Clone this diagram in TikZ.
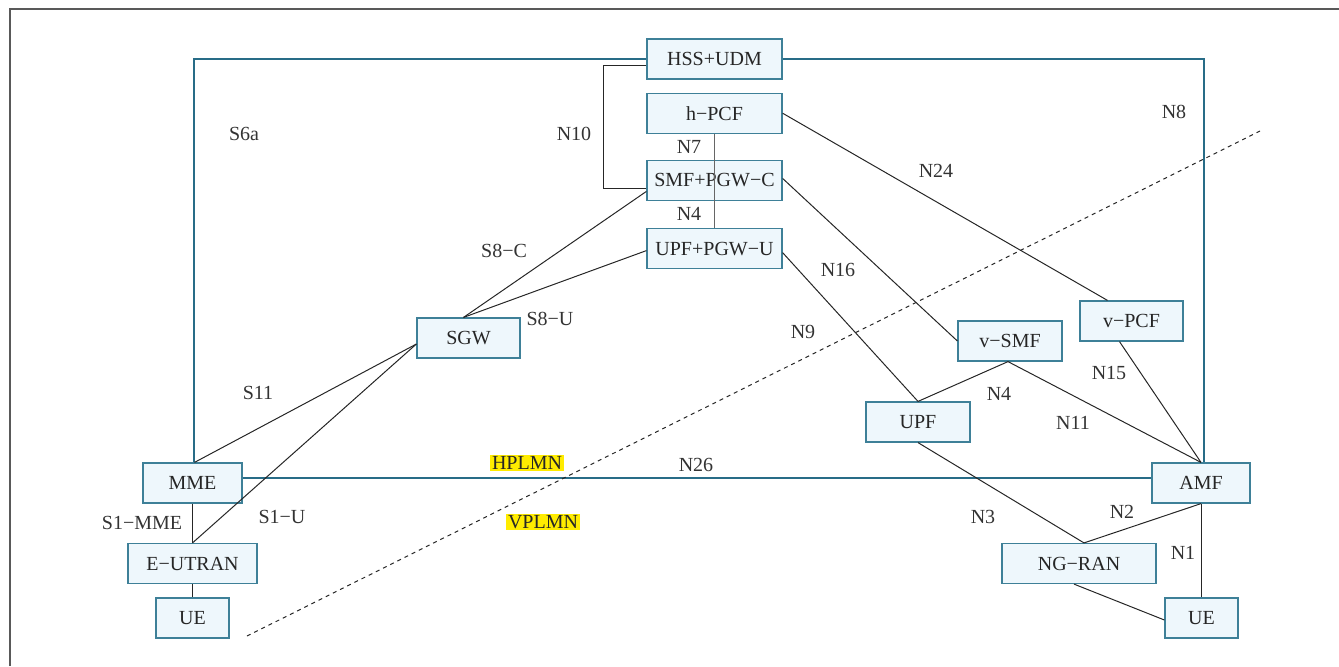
\documentclass[tikz,border=0pt]{standalone}
\usepackage{fontspec}
\setmainfont{Liberation Serif}
\usetikzlibrary{positioning}
\definecolor{boxline}{RGB}{62,128,152}
\definecolor{boxfill}{RGB}{238,247,252}
\definecolor{plmnline}{RGB}{40,108,135}
\definecolor{hilite}{RGB}{255,236,0}

\begin{document}
\begin{tikzpicture}[
    x=0.5pt, y=-0.5pt,
    font=\fontsize{10}{12}\selectfont,
    box/.style={rectangle, draw=boxline, fill=boxfill, line width=0.6pt, minimum height=20pt, minimum width=#1, inner sep=2pt, text=black!85},
    box/.default=50pt,
    link/.style={draw=black!85, line width=0.5pt},
    plmn/.style={draw=plmnline, line width=0.6pt},
    lbl/.style={text=black!80, inner sep=0pt},
    tag/.style={fill=hilite, text=black!85, inner sep=0.8pt}
]
\useasboundingbox (0,0) rectangle (1339,666);
\draw[black!65, line width=0.75pt] (10,666) -- (10,9) -- (1339,9);

\node (hss) [box=67.5pt] at (714.5,59) {HSS+UDM};
\node (hpcf) [box=67.5pt, below=6.5pt of hss] {h−PCF};
\node (smf) [box=67.5pt, below=13pt of hpcf] {SMF+PGW−C};
\node (upfpgw) [box=67.5pt, below=13.5pt of smf] {UPF+PGW−U};
\node (sgw) [box=51.5pt] at (468.5,338) {SGW};
\node (mme) [box=49.5pt] at (192.5,483) {MME};
\node (eutran) [box=64.5pt] at (192.5,563.5) {E−UTRAN};
\node (ue1) [box=36.5pt] at (192.5,618) {UE};
\node (vsmf) [box=52pt] at (1010,341) {v−SMF};
\node (vpcf) [box=51.5pt] at (1131.5,321) {v−PCF};
\node (upf) [box=52pt] at (918,422) {UPF};
\node (amf) [box=49pt] at (1201,483) {AMF};
\node (ngran) [box=77pt] at (1079,563.5) {NG−RAN};
\node (ue2) [box=36.5pt] at (1201.5,618) {UE};

\draw[plmn] (hss.west) -| ([xshift=0.75pt]mme.north);
\draw[plmn] (hss.east) -| ([xshift=1.5pt]amf.north);
\draw[plmn] ([yshift=2.5pt]mme.east) -- ([yshift=2.5pt]amf.west);

\draw[link] ([yshift=-3pt]hss.west) -- ++(-21.5pt,0) |- ([yshift=-4pt]smf.west);
\draw[link, draw=black!60] (hpcf.south) -- (upfpgw.north);
\draw[link] (hpcf.east) -- ([xshift=-12pt]vpcf.north);
\draw[link] ([yshift=1pt]smf.east) -- (vsmf.west);
\draw[link] ([yshift=-2pt]upfpgw.east) -- (upf.north);
\draw[link] ([yshift=-5.5pt]smf.west) -- ([xshift=-2.5pt]sgw.north);
\draw[link] ([yshift=-1pt]upfpgw.west) -- ([xshift=-2.5pt]sgw.north);
\draw[link] ([yshift=-3pt]sgw.west) -- ([xshift=1pt]mme.north);
\draw[link] ([yshift=-3pt]sgw.west) -- (eutran.north);
\draw[link] (mme.south) -- (eutran.north);
\draw[link] (eutran.south) -- (ue1.north);
\draw[link] ([xshift=-1pt]vsmf.south) -- (upf.north);
\draw[link] ([xshift=-1pt]vsmf.south) -- (amf.north);
\draw[link] ([xshift=-6pt]vpcf.south) -- (amf.north);
\draw[link] (upf.south) -- ([xshift=2.5pt]ngran.north);
\draw[link] (amf.south) -- ([xshift=2.5pt]ngran.north);
\draw[link] (amf.south) -- ([xshift=-0.25pt]ue2.north);
\draw[link] ([xshift=-2.5pt]ngran.south) -- ([yshift=-1pt]ue2.west);

\coordinate (split1) at (247,636);
\coordinate (split2) at (1260,131);
\draw[black!85, line width=0.5pt, dash pattern=on 2pt off 2pt] (split1) -- (split2);

\node (ls6a) [lbl] at (244,134) {S6a};
\node (ln10) [lbl] at (574,134) {N10};
\node (ln7) [lbl] at (689,147) {N7};
\node (ln4a) [lbl] at (689,214) {N4};
\node (ln24) [lbl] at (936,171) {N24};
\node (ln8) [lbl] at (1174,112) {N8};
\node (ls8c) [lbl] at (504,251) {S8−C};
\node (ln16) [lbl] at (838,270) {N16};
\node (ls8u) [lbl] at (550,319) {S8−U};
\node (ln9) [lbl] at (803,332) {N9};
\node (ls11) [lbl] at (258,393) {S11};
\node (ln15) [lbl] at (1109,373) {N15};
\node (ln4b) [lbl] at (999,394) {N4};
\node (ln11) [lbl] at (1073,423) {N11};
\node (ln26) [lbl] at (696,465) {N26};
\node (ls1mme) [lbl] at (142,523) {S1−MME};
\node (ls1u) [lbl] at (282,517) {S1−U};
\node (ln3) [lbl] at (983,517) {N3};
\node (ln2) [lbl] at (1122,512) {N2};
\node (ln1) [lbl] at (1183,553) {N1};
\node (hplmn) [tag] at (527,463) {HPLMN};
\node (vplmn) [tag] at (543,522) {VPLMN};
\end{tikzpicture}
\end{document}
